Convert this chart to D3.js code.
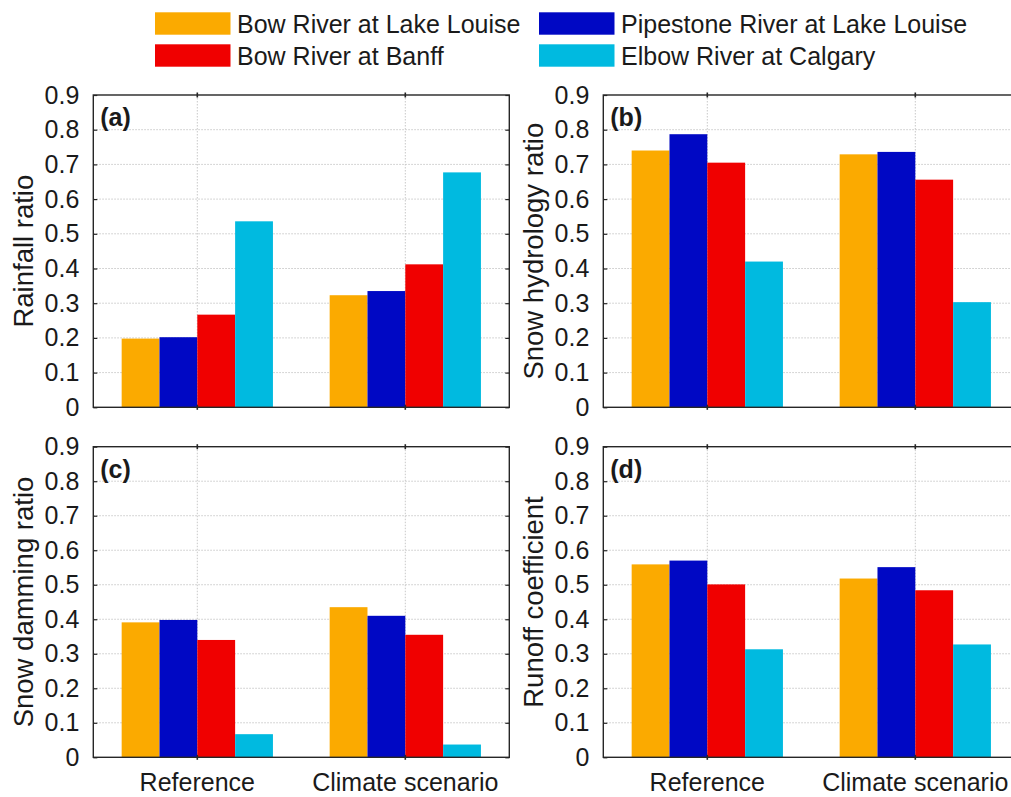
<!DOCTYPE html>
<html>
<head>
<meta charset="utf-8">
<script src="https://cdn.jsdelivr.net/npm/d3@7/dist/d3.min.js"></script>
<style>
  html, body { margin: 0; padding: 0; background: #fff; }
  svg { display: block; font-family: "Liberation Sans", Arial, sans-serif; }
</style>
</head>
<body>
<svg id="chart" width="1011" height="797"></svg>
<script>
// Scenarios on the x axis
const categories = ["Reference", "Climate scenario"];

// Gauging stations (one bar each per scenario)
const stations = [
  "Bow River at Lake Louise",
  "Pipestone River at Lake Louise",
  "Bow River at Banff",
  "Elbow River at Calgary"
];
const stationColors = ["#FBAA00", "#0008C4", "#F00000", "#00BAE0"];

// Values per station, [Reference, Climate scenario]
const rainfallRatio = [
  [0.198, 0.323],
  [0.202, 0.335],
  [0.267, 0.412],
  [0.536, 0.677]
];
const snowHydrologyRatio = [
  [0.740, 0.729],
  [0.787, 0.736],
  [0.705, 0.656],
  [0.420, 0.303]
];
const snowDammingRatio = [
  [0.391, 0.435],
  [0.398, 0.410],
  [0.340, 0.355],
  [0.067, 0.037]
];
const runoffCoefficient = [
  [0.559, 0.518],
  [0.570, 0.551],
  [0.501, 0.484],
  [0.313, 0.327]
];

const yTicks = [0, 0.1, 0.2, 0.3, 0.4, 0.5, 0.6, 0.7, 0.8, 0.9];
const panelLetters = ["(a)", "(b)", "(c)", "(d)"];
const yLabels = ["Rainfall ratio", "Snow hydrology ratio", "Snow damming ratio", "Runoff coefficient"];
const panelData = [rainfallRatio, snowHydrologyRatio, snowDammingRatio, runoffCoefficient];

const svg = d3.select("#chart");

// Panel frames: [left, right, top, bottom]
const cols = [[93.3, 509.3], [603.3, 1019.3]];
const rows = [[95, 407.3], [446.7, 757.3]];

const axisColor = "#262626";
const gridColor = "#c8c8c8";

panelData.forEach((data, i) => {
  const [x0, x1] = cols[i % 2];
  const [y0, y1] = rows[Math.floor(i / 2)];
  const g = svg.append("g");

  const x = d3.scaleBand().domain(categories).range([x0, x1])
    .paddingInner(0.2727).paddingOuter(0.13636);
  const xs = d3.scaleBand().domain(d3.range(stations.length)).range([0, x.bandwidth()]);
  const y = d3.scaleLinear().domain([0, 0.9]).range([y1, y0]);
  const cx = c => x(c) + x.bandwidth() / 2;

  // dotted grid
  g.append("g").selectAll("line.h").data(yTicks.slice(1, -1)).join("line")
    .attr("x1", x0).attr("x2", x1)
    .attr("y1", d => y(d)).attr("y2", d => y(d))
    .attr("stroke", gridColor).attr("stroke-width", 1).attr("stroke-dasharray", "1.5,1.5");
  g.append("g").selectAll("line.v").data(categories).join("line")
    .attr("x1", d => cx(d)).attr("x2", d => cx(d))
    .attr("y1", y0).attr("y2", y1)
    .attr("stroke", gridColor).attr("stroke-width", 1).attr("stroke-dasharray", "1.5,1.5");

  // bars
  const cells = [];
  data.forEach((vals, s) => vals.forEach((v, c) => cells.push({ s, c: categories[c], v })));
  g.append("g").selectAll("rect").data(cells).join("rect")
    .attr("x", d => x(d.c) + xs(d.s))
    .attr("width", xs.bandwidth())
    .attr("y", d => y(d.v))
    .attr("height", d => y(0) - y(d.v))
    .attr("fill", d => stationColors[d.s]);

  // frame
  g.append("rect")
    .attr("x", x0).attr("y", y0).attr("width", x1 - x0).attr("height", y1 - y0)
    .attr("fill", "none").attr("stroke", axisColor).attr("stroke-width", 1.4);

  // y axis with inward ticks on both sides
  const yAxis = d3.axisLeft(y).tickValues(yTicks).tickSize(-4).tickPadding(14)
    .tickFormat(d => d === 0 ? "0" : d3.format(".1f")(d));
  const ya = g.append("g").attr("transform", `translate(${x0},0)`).call(yAxis);
  ya.select(".domain").remove();
  ya.selectAll(".tick line").attr("stroke", axisColor).attr("stroke-width", 1.2);
  ya.selectAll(".tick text").attr("fill", "#1a1a1a")
    .style("font-size", "25px").style("font-family", "'Liberation Sans', Arial, sans-serif");
  const yr = g.append("g").attr("transform", `translate(${x1},0)`)
    .call(d3.axisRight(y).tickValues(yTicks).tickSize(-4).tickFormat(""));
  yr.select(".domain").remove();
  yr.selectAll(".tick line").attr("stroke", axisColor).attr("stroke-width", 1.2);

  // x ticks (top and bottom)
  [y0, y1].forEach(yy => {
    g.append("g").selectAll("line").data(categories).join("line")
      .attr("x1", d => cx(d)).attr("x2", d => cx(d))
      .attr("y1", yy - 2.5).attr("y2", yy + 2.5)
      .attr("stroke", axisColor).attr("stroke-width", 1.6);
  });

  // category labels on the bottom row
  if (i >= 2) {
    g.append("g").selectAll("text").data(categories).join("text")
      .attr("x", d => cx(d)).attr("y", y1 + 34)
      .attr("text-anchor", "middle").attr("fill", "#1a1a1a")
      .style("font-size", "25px")
      .text(d => d);
  }

  // y label
  g.append("text")
    .attr("transform", `translate(${x0 - 60},${(y0 + y1) / 2}) rotate(-90)`)
    .attr("text-anchor", "middle").attr("fill", "#1a1a1a")
    .style("font-size", "27.5px")
    .text(yLabels[i]);

  // panel letter
  g.append("text")
    .attr("x", x0 + 7).attr("y", y0 + 31)
    .attr("fill", "#1a1a1a").style("font-size", "25px").style("font-weight", "bold")
    .text(panelLetters[i]);
});

// legend: two columns, two rows
const legendCols = [155, 539];
const legendRows = [12.3, 44.3];
const legendOrder = [0, 2, 1, 3]; // column-major placement
const lg = svg.append("g");
legendOrder.forEach((s, k) => {
  const lx = legendCols[Math.floor(k / 2)];
  const ly = legendRows[k % 2];
  lg.append("rect").attr("x", lx).attr("y", ly).attr("width", 75.5).attr("height", 22.4)
    .attr("fill", stationColors[s]);
  lg.append("text").attr("x", lx + 82).attr("y", ly + 21)
    .attr("fill", "#1a1a1a").style("font-size", "25px")
    .text(stations[s]);
});
</script>
</body>
</html>
